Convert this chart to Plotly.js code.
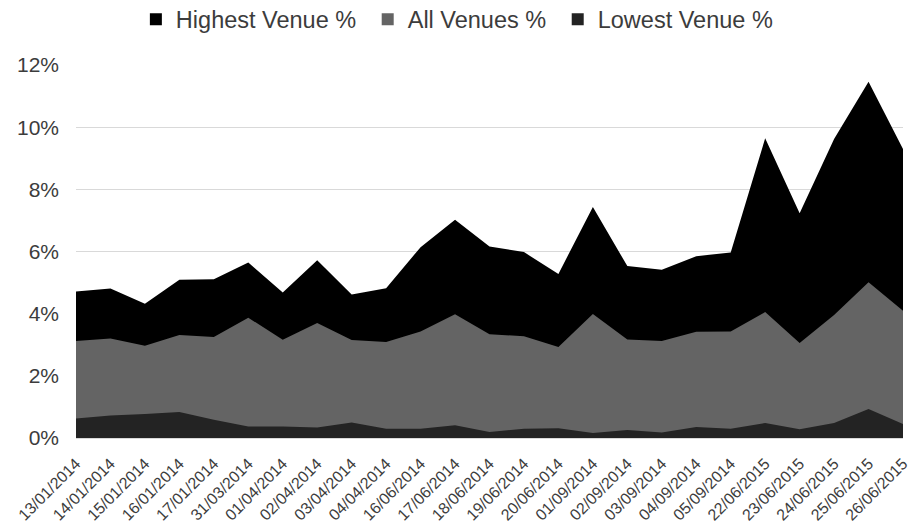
<!DOCTYPE html>
<html>
<head>
<meta charset="utf-8">
<script src="https://cdn.plot.ly/plotly-3.0.1.min.js"></script>
<style>
  html, body { margin: 0; padding: 0; background: #ffffff; }
  #chart { width: 908px; height: 528px; }
</style>
</head>
<body>
<div id="chart"></div>
<script>
// Trading days
const dates = [
  "13/01/2014", "14/01/2014", "15/01/2014", "16/01/2014", "17/01/2014",
  "31/03/2014", "01/04/2014", "02/04/2014", "03/04/2014", "04/04/2014",
  "16/06/2014", "17/06/2014", "18/06/2014", "19/06/2014", "20/06/2014",
  "01/09/2014", "02/09/2014", "03/09/2014", "04/09/2014", "05/09/2014",
  "22/06/2015", "23/06/2015", "24/06/2015", "25/06/2015", "26/06/2015"
];

// Percentages per day
const highestVenue = [
  4.71, 4.81, 4.32, 5.09, 5.11, 5.65, 4.68, 5.72, 4.62, 4.82,
  6.14, 7.02, 6.16, 5.98, 5.28, 7.43, 5.53, 5.41, 5.85, 5.97,
  9.64, 7.23, 9.62, 11.46, 9.30
];
const allVenues = [
  3.12, 3.20, 2.97, 3.31, 3.25, 3.87, 3.16, 3.70, 3.15, 3.09,
  3.43, 3.98, 3.34, 3.27, 2.93, 3.99, 3.17, 3.12, 3.42, 3.43,
  4.05, 3.06, 3.96, 5.01, 4.09
];
const lowestVenue = [
  0.63, 0.72, 0.77, 0.84, 0.59, 0.37, 0.37, 0.34, 0.50, 0.30,
  0.30, 0.41, 0.19, 0.30, 0.31, 0.16, 0.26, 0.18, 0.35, 0.30,
  0.48, 0.28, 0.48, 0.93, 0.45
];

const seriesNames = ["Highest Venue %", "All Venues %", "Lowest Venue %"];
const seriesColors = ["#000000", "#646464", "#232323"];
const yTicks = [0, 2, 4, 6, 8, 10, 12];

const FONT = "Liberation Sans, Arial, sans-serif";
const TEXT = "#3c3c3c";

const seriesValues = [highestVenue, allVenues, lowestVenue];

// Overlapping filled areas, largest drawn first
const areaTraces = seriesValues.map((vals, i) => ({
  type: "scatter",
  mode: "lines",
  x: dates,
  y: vals,
  fill: "tozeroy",
  fillcolor: seriesColors[i],
  line: { width: 0, color: seriesColors[i] },
  showlegend: false,
  hoverinfo: "skip"
}));

// Square legend keys (a trailing no-break space widens the gap between entries)
const legendTraces = seriesNames.map((name, i) => ({
  type: "scatter",
  mode: "markers",
  x: [null],
  y: [null],
  name: i < seriesNames.length - 1 ? name + "\u00a0" : name,
  marker: { symbol: "square", size: 12, color: seriesColors[i] },
  hoverinfo: "skip"
}));

const layout = {
  width: 908,
  height: 528,
  margin: { l: 76, r: 5, t: 65, b: 90, autoexpand: false },
  paper_bgcolor: "#ffffff",
  plot_bgcolor: "#ffffff",
  font: { family: FONT, color: TEXT },
  showlegend: true,
  legend: {
    orientation: "h",
    x: 0.0724,
    xanchor: "left",
    y: 1.122,
    yanchor: "middle",
    font: { family: FONT, size: 23.5, color: TEXT },
    bgcolor: "rgba(0,0,0,0)"
  },
  xaxis: {
    type: "category",
    range: [0, dates.length - 1],
    showgrid: false,
    zeroline: false,
    showline: true,
    linecolor: "#d9d9d9",
    linewidth: 1,
    ticks: "",
    tickangle: -45,
    ticklabelstandoff: 9,
    tickfont: { family: FONT, size: 16, color: TEXT },
    fixedrange: true
  },
  yaxis: {
    range: [0, 12],
    tickvals: yTicks,
    ticktext: yTicks.map(v => v + "%"),
    showgrid: true,
    gridcolor: "#d9d9d9",
    gridwidth: 1,
    zeroline: false,
    showline: false,
    ticks: "",
    ticklabelstandoff: 16,
    tickfont: { family: FONT, size: 21, color: TEXT },
    fixedrange: true
  }
};

Plotly.newPlot("chart", areaTraces.concat(legendTraces), layout, { displayModeBar: false, staticPlot: true });
</script>
</body>
</html>
